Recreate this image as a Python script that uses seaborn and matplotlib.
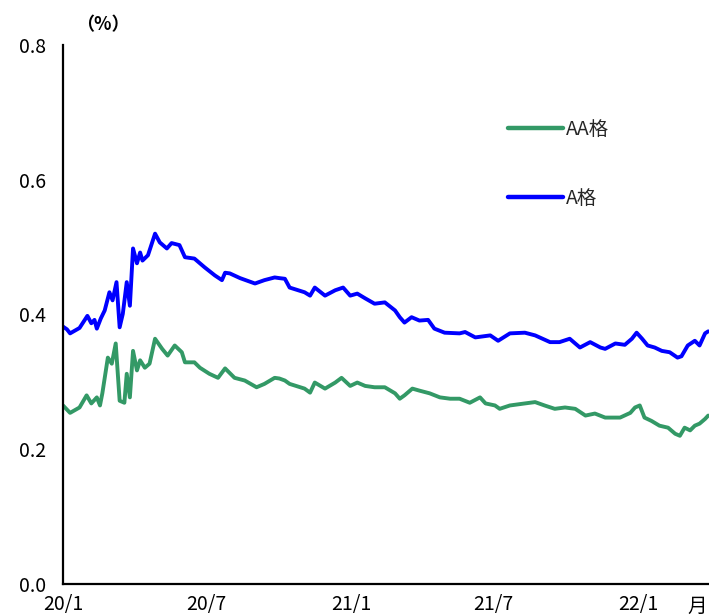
import matplotlib
matplotlib.use("Agg")
import matplotlib.pyplot as plt
import pandas as pd
import seaborn as sns

# A-rated spread (%)
a_dates = ["2020-01-01", "2020-01-06", "2020-01-10", "2020-01-16", "2020-01-22", "2020-02-01",
           "2020-02-06", "2020-02-10", "2020-02-13", "2020-02-18", "2020-02-23", "2020-02-29",
           "2020-03-04", "2020-03-09", "2020-03-13", "2020-03-17", "2020-03-22", "2020-03-26",
           "2020-03-30", "2020-04-04", "2020-04-08", "2020-04-11", "2020-04-18", "2020-04-27",
           "2020-05-03", "2020-05-12", "2020-05-18", "2020-05-28", "2020-06-04", "2020-06-16",
           "2020-06-29", "2020-07-12", "2020-07-21", "2020-07-25", "2020-07-31", "2020-08-13",
           "2020-09-01", "2020-09-13", "2020-09-26", "2020-10-02", "2020-10-09", "2020-10-15",
           "2020-11-03", "2020-11-10", "2020-11-16", "2020-11-29", "2020-12-12", "2020-12-22",
           "2020-12-31", "2021-01-09", "2021-01-19", "2021-01-31", "2021-02-13", "2021-02-26",
           "2021-03-04", "2021-03-10", "2021-03-19", "2021-03-29", "2021-04-09", "2021-04-17",
           "2021-04-30", "2021-05-19", "2021-05-26", "2021-06-08", "2021-06-27", "2021-07-07",
           "2021-07-22", "2021-08-10", "2021-08-23", "2021-09-11", "2021-09-23", "2021-10-06",
           "2021-10-19", "2021-11-01", "2021-11-14", "2021-11-20", "2021-12-03", "2021-12-15",
           "2021-12-24", "2021-12-30", "2022-01-06", "2022-01-13", "2022-01-22", "2022-01-31",
           "2022-02-10", "2022-02-20", "2022-02-25", "2022-03-05", "2022-03-14", "2022-03-20",
           "2022-03-27", "2022-03-31"]
a_vals = [0.382, 0.378, 0.372, 0.376, 0.380, 0.398,
          0.387, 0.392, 0.379, 0.394, 0.406, 0.433,
          0.421, 0.448, 0.381, 0.401, 0.448, 0.413,
          0.498, 0.476, 0.492, 0.480, 0.488, 0.520,
          0.507, 0.498, 0.506, 0.503, 0.485, 0.483,
          0.470, 0.458, 0.451, 0.462, 0.461, 0.454,
          0.446, 0.451, 0.455, 0.454, 0.453, 0.440,
          0.433, 0.428, 0.440, 0.428, 0.436, 0.440,
          0.428, 0.431, 0.424, 0.416, 0.418, 0.406,
          0.396, 0.388, 0.396, 0.391, 0.392, 0.379,
          0.373, 0.372, 0.374, 0.366, 0.369, 0.361,
          0.372, 0.373, 0.369, 0.359, 0.359, 0.364,
          0.351, 0.359, 0.351, 0.349, 0.357, 0.355,
          0.364, 0.373, 0.364, 0.354, 0.351, 0.346,
          0.344, 0.336, 0.338, 0.354, 0.361, 0.354,
          0.372, 0.375]

# AA-rated spread (%)
aa_dates = ["2020-01-01", "2020-01-10", "2020-01-22", "2020-01-31", "2020-02-06", "2020-02-13",
            "2020-02-17", "2020-02-20", "2020-02-27", "2020-03-03", "2020-03-08", "2020-03-13",
            "2020-03-19", "2020-03-22", "2020-03-26", "2020-03-30", "2020-04-04", "2020-04-08",
            "2020-04-14", "2020-04-20", "2020-04-27", "2020-05-06", "2020-05-13", "2020-05-22",
            "2020-05-31", "2020-06-04", "2020-06-16", "2020-06-23", "2020-07-05", "2020-07-16",
            "2020-07-25", "2020-08-06", "2020-08-19", "2020-09-03", "2020-09-13", "2020-09-26",
            "2020-10-02", "2020-10-09", "2020-10-15", "2020-11-03", "2020-11-10", "2020-11-16",
            "2020-11-29", "2020-12-12", "2020-12-20", "2020-12-31", "2021-01-09", "2021-01-19",
            "2021-01-31", "2021-02-13", "2021-02-26", "2021-03-04", "2021-03-10", "2021-03-20",
            "2021-03-29", "2021-04-11", "2021-04-24", "2021-05-07", "2021-05-19", "2021-06-01",
            "2021-06-14", "2021-06-21", "2021-07-03", "2021-07-09", "2021-07-22", "2021-08-10",
            "2021-08-23", "2021-09-04", "2021-09-17", "2021-09-30", "2021-10-13", "2021-10-26",
            "2021-11-07", "2021-11-20", "2021-12-09", "2021-12-22", "2021-12-28", "2022-01-03",
            "2022-01-09", "2022-01-18", "2022-01-28", "2022-02-08", "2022-02-17", "2022-02-23",
            "2022-03-01", "2022-03-08", "2022-03-14", "2022-03-20", "2022-03-27", "2022-03-31"]
aa_vals = [0.265, 0.254, 0.262, 0.280, 0.268, 0.277,
           0.265, 0.283, 0.336, 0.327, 0.357, 0.272,
           0.269, 0.312, 0.277, 0.346, 0.317, 0.332,
           0.321, 0.327, 0.364, 0.349, 0.339, 0.354,
           0.344, 0.329, 0.329, 0.321, 0.312, 0.306,
           0.320, 0.306, 0.302, 0.292, 0.297, 0.306,
           0.305, 0.302, 0.297, 0.290, 0.284, 0.299,
           0.290, 0.299, 0.306, 0.294, 0.299, 0.294,
           0.292, 0.292, 0.283, 0.275, 0.280, 0.290,
           0.287, 0.283, 0.277, 0.275, 0.275, 0.269,
           0.277, 0.268, 0.265, 0.260, 0.265, 0.268,
           0.270, 0.265, 0.260, 0.262, 0.260, 0.250,
           0.253, 0.247, 0.247, 0.254, 0.262, 0.265,
           0.247, 0.242, 0.235, 0.232, 0.223, 0.220,
           0.232, 0.228, 0.235, 0.238, 0.245, 0.250]

series_names = ["AA格", "A格"]
series_colors = ["#339966", "#0000FF"]

x_ticks = ["2020-01-01", "2020-07-01", "2021-01-01", "2021-07-01", "2022-01-01"]
x_tick_labels = ["20/1", "20/7", "21/1", "21/7", "22/1"]
y_ticks = [0.0, 0.2, 0.4, 0.6, 0.8]
y_tick_labels = ["0.0", "0.2", "0.4", "0.6", "0.8"]

df = pd.concat([
    pd.DataFrame({"date": pd.to_datetime(aa_dates), "value": aa_vals, "series": series_names[0]}),
    pd.DataFrame({"date": pd.to_datetime(a_dates), "value": a_vals, "series": series_names[1]}),
], ignore_index=True)

sns.set_theme(style="white")
plt.rcParams["font.family"] = ["Noto Sans CJK JP", "DejaVu Sans"]

fig = plt.figure(figsize=(7.09, 6.15), dpi=100)
ax = fig.add_axes([63 / 709, 31 / 615, 646 / 709, 539 / 615])

sns.lineplot(data=df, x="date", y="value", hue="series", hue_order=series_names,
             palette=series_colors, linewidth=2.8, ax=ax, legend=True)

ax.set_xlim(pd.Timestamp("2020-01-01"), pd.Timestamp("2022-04-01"))
ax.set_ylim(0, 0.8)
ax.set_xticks(pd.to_datetime(x_ticks))
ax.set_xticklabels(x_tick_labels)
ax.set_yticks(y_ticks)
ax.set_yticklabels(y_tick_labels)
ax.set_xlabel("")
ax.set_ylabel("")

for side in ["top", "right"]:
    ax.spines[side].set_visible(False)
for side in ["left", "bottom"]:
    ax.spines[side].set_color("black")
    ax.spines[side].set_linewidth(1.6)

ax.tick_params(axis="both", width=1.6, colors="black", labelsize=14, labelcolor="black")
ax.tick_params(axis="x", direction="out", length=4, pad=3)
ax.tick_params(axis="y", direction="in", length=5, pad=12)

handles, labels = ax.get_legend_handles_labels()
leg = ax.legend(handles, labels, loc="upper left", bbox_to_anchor=(508 / 709, 1 - 119 / 615),
                bbox_transform=fig.transFigure, frameon=False, fontsize=14,
                handlelength=2.85, handletextpad=0.12, labelspacing=2.45,
                borderpad=0, borderaxespad=0)
for line in leg.get_lines():
    line.set_linewidth(3.2)

fig.text(103 / 709, 1 - 25 / 615, "（%）", fontsize=13, ha="center", va="center",
         color="black", fontweight="bold")
fig.text(707 / 709, 1 - 606 / 615, "月", fontsize=14, ha="right", va="center", color="black")

fig.savefig("out.png", dpi=100)
